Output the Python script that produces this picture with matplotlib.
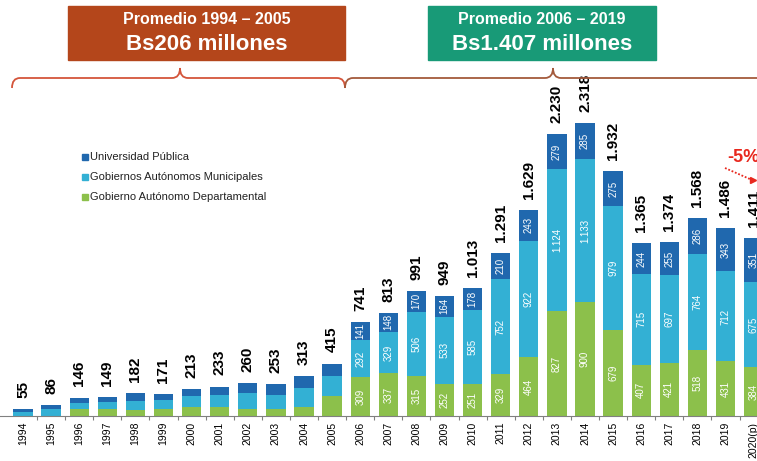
import matplotlib
matplotlib.use("Agg")
import matplotlib.pyplot as plt
import numpy as np
from matplotlib.patches import Rectangle, PathPatch
from matplotlib.path import Path

# ---------------- data ----------------
years = ["1994", "1995", "1996", "1997", "1998", "1999", "2000", "2001", "2002",
         "2003", "2004", "2005", "2006", "2007", "2008", "2009", "2010", "2011",
         "2012", "2013", "2014", "2015", "2016", "2017", "2018", "2019", "2020(p)"]
gad = [2, 3, 54, 52, 50, 54, 71, 72, 59, 59, 71, 155,
       309, 337, 315, 252, 251, 329, 464, 827, 900, 679, 407, 421, 518, 431, 384]
gam = [28, 53, 52, 55, 71, 69, 85, 96, 126, 107, 151, 163,
       292, 329, 506, 533, 585, 752, 922, 1124, 1133, 979, 715, 697, 764, 712, 675]
up = [25, 30, 40, 42, 61, 48, 57, 65, 75, 87, 91, 97,
      141, 148, 170, 164, 178, 210, 243, 279, 285, 275, 244, 255, 286, 343, 351]
totals = [55, 86, 146, 149, 182, 171, 213, 233, 260, 253, 313, 415,
          741, 813, 991, 949, 1013, 1291, 1629, 2230, 2318, 1932, 1365, 1374, 1568, 1486, 1411]
series_names = ["Universidad Pública", "Gobiernos Autónomos Municipales",
                "Gobierno Autónomo Departamental"]
header_titles = ["Promedio 1994 – 2005", "Promedio 2006 – 2019"]
header_values = ["Bs206 millones", "Bs1.407 millones"]
change_label = "-5%"

C_GAD = "#8cc04b"
C_GAM = "#33b0d4"
C_UP = "#2068ae"

W, H = 757, 461
fig = plt.figure(figsize=(W / 100, H / 100), dpi=100)
fig.patch.set_facecolor("white")

def fx(px):
    return px / W

def fy(py):
    return 1 - py / H

base_px = 416
ax = fig.add_axes([0, fy(base_px), 1, base_px / H])
ax.set_facecolor("none")

x = np.arange(len(years))
gad_a = np.array(gad)
gam_a = np.array(gam)
up_a = np.array(up)
bw = 0.69
ax.bar(x, gad_a, bw, color=C_GAD, linewidth=0)
ax.bar(x, gam_a, bw, bottom=gad_a, color=C_GAM, linewidth=0)
ax.bar(x, up_a, bw, bottom=gad_a + gam_a, color=C_UP, linewidth=0)

ax.set_xlim(-23 / 28.1, (W - 23) / 28.1)
ax.set_ylim(0, base_px / 0.1265)

def fmt(v):
    return f"{v:,}".replace(",", ".")

# inner labels (2006 onwards)
for i in range(len(years)):
    if i < 12:
        continue
    segs = [(0, gad[i]), (gad[i], gam[i]), (gad[i] + gam[i], up[i])]
    for b, v in segs:
        ax.text(x[i], b + v / 2, fmt(v), rotation=90, ha="center", va="center",
                color="white", fontsize=7, family=["Liberation Sans", "DejaVu Sans"])

# totals
for i, t in enumerate(totals):
    top = gad[i] + gam[i] + up[i]
    ax.annotate(fmt(t), (x[i], top), xytext=(0, 8), textcoords="offset points",
                rotation=90, ha="center", va="bottom", fontsize=11, fontweight="bold",
                color="black", family=["Liberation Sans", "DejaVu Sans"],
                annotation_clip=False)

for s in ["top", "right", "left"]:
    ax.spines[s].set_visible(False)
ax.spines["bottom"].set_color("#808080")
ax.spines["bottom"].set_linewidth(0.8)
ax.set_yticks([])
ax.set_xticks(x)
ax.set_xticklabels(years, rotation=90, fontsize=7.5,
                   family=["Liberation Sans", "DejaVu Sans"])
ax.tick_params(axis="x", length=0, pad=4)
ax.set_xticks(x[:-1] + 0.5, minor=True)
ax.tick_params(axis="x", which="minor", length=3, color="#808080", width=0.8)

# legend (manual)
leg_colors = [C_UP, C_GAM, C_GAD]
for k, (name, c) in enumerate(zip(series_names, leg_colors)):
    yc = 157 + 20 * k
    fig.add_artist(Rectangle((fx(82), fy(yc + 3)), fx(6), 6 / H, color=c,
                             transform=fig.transFigure))
    fig.text(fx(90), fy(yc), name, fontsize=8, va="center", ha="left",
             color="#222222", family=["Liberation Sans", "DejaVu Sans"])

# header boxes
boxes = [(68, 345, "#b4461b"), (428, 656, "#189a77")]
for (x0, x1, c), t1, t2 in zip(boxes, header_titles, header_values):
    fig.add_artist(Rectangle((fx(x0), fy(60)), fx(x1 - x0), 54 / H, color=c,
                             transform=fig.transFigure))
    xc = fx((x0 + x1) / 2)
    fig.text(xc, fy(20), t1, color="white", fontsize=11.5, fontweight="bold",
             ha="center", va="center",
             family=["Liberation Sans Narrow", "Liberation Sans", "DejaVu Sans"])
    fig.text(xc, fy(44), t2, color="white", fontsize=16, fontweight="bold",
             ha="center", va="center",
             family=["Liberation Sans Narrow", "Liberation Sans", "DejaVu Sans"])

# braces
def brace(x0, x1, xt, ytip, ymid, yend, color):
    r = 8
    verts = [
        (x0, yend), (x0, ymid), (x0 + r, ymid), (x0 + r, ymid),
        (xt - r, ymid), (xt - r, ymid), (xt, ymid), (xt, ytip),
        (xt, ymid), (xt + r, ymid), (xt + r, ymid),
        (x1 - r, ymid), (x1 - r, ymid), (x1, ymid), (x1, yend),
    ]
    codes = [Path.MOVETO, Path.CURVE3, Path.CURVE3, Path.LINETO,
             Path.LINETO, Path.LINETO, Path.CURVE3, Path.CURVE3,
             Path.CURVE3, Path.CURVE3, Path.LINETO,
             Path.LINETO, Path.LINETO, Path.CURVE3, Path.CURVE3]
    v = [(fx(a), fy(b)) for a, b in verts]
    p = PathPatch(Path(v, codes), fill=False, edgecolor=color, lw=1.3,
                  transform=fig.transFigure)
    fig.add_artist(p)

brace(12, 345, 180, 68, 78, 88, "#d4553b")
brace(345, 770, 553, 68, 78, 88, "#a45a3c")

# -5% annotation
fig.text(fx(727), fy(158), change_label, color="#e8281e", fontsize=13,
         fontweight="bold", ha="left", va="center",
         family=["Liberation Sans", "DejaVu Sans"])
fig.add_artist(plt.Line2D([fx(725), fx(752)], [fy(168), fy(180)],
                          color="#e8281e", lw=1.3, ls=(0, (1, 1)),
                          transform=fig.transFigure))
fig.add_artist(plt.Line2D([fx(753)], [fy(180.5)], marker=">", ms=4,
                          color="#e8281e", transform=fig.transFigure))

fig.savefig("out.png", dpi=100, facecolor="white")
